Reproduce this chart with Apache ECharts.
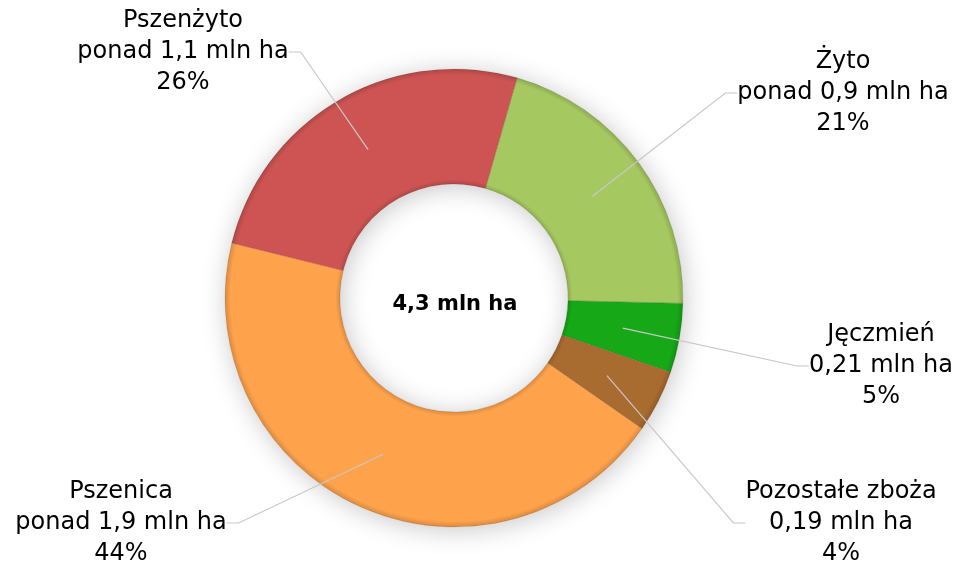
<!DOCTYPE html>
<html>
<head>
<meta charset="utf-8">
<script src="https://cdn.jsdelivr.net/npm/echarts@6/dist/echarts.min.js"></script>
<style>
  html, body { margin: 0; padding: 0; background: #fff; }
  #chart { width: 959px; height: 563px; }
</style>
</head>
<body>
<div id="chart"></div>
<script type="text/javascript">

// dane: powierzchnia zasiewów zbóż (mln ha)
var names = ['Żyto', 'Jęczmień', 'Pozostałe zboża', 'Pszenica', 'Pszenżyto'];
var values = [0.9, 0.21, 0.19, 1.9, 1.1];
var areaText = ['ponad 0,9 mln ha', '0,21 mln ha', '0,19 mln ha', 'ponad 1,9 mln ha', 'ponad 1,1 mln ha'];
var percents = ['21%', '5%', '4%', '44%', '26%'];
var colors = ['#A6C860', '#16A816', '#A86B30', '#FFA24C', '#CD5452'];
var totalText = '4,3 mln ha';

// pozycje etykiet (srodek bloku tekstu)
var labelPos = [[843, 93], [881, 366], [841, 523], [121, 523], [183, 52]];

var cx = 454, cy = 298, rIn = 114, rOut = 229;

function shade(hex, k) {
  var n = parseInt(hex.slice(1), 16);
  var r = Math.round(((n >> 16) & 255) * k);
  var g = Math.round(((n >> 8) & 255) * k);
  var b = Math.round((n & 255) * k);
  return 'rgb(' + r + ',' + g + ',' + b + ')';
}

function bevel(c) {
  var f = rIn / rOut;
  return new echarts.graphic.RadialGradient(cx, cy, rOut, [
    { offset: 0, color: shade(c, 0.88) },
    { offset: f, color: shade(c, 0.86) },
    { offset: f + 0.02, color: c },
    { offset: 0.975, color: c },
    { offset: 1, color: shade(c, 0.85) }
  ], true);
}

var ring = [], labels = [];
for (var i = 0; i < names.length; i++) {
  ring.push({ name: names[i], value: values[i], itemStyle: { color: bevel(colors[i]) } });
  labels.push({ name: names[i], value: values[i] });
}

var chart = echarts.init(document.getElementById('chart'));
chart.setOption({
  animation: false,
  title: {
    text: totalText,
    left: cx - 4, top: cy + 2,
    textAlign: 'center', textVerticalAlign: 'middle',
    textStyle: { fontFamily: 'DejaVu Sans', fontSize: 21, fontWeight: 'bold', color: '#000' }
  },
  series: [
    {
      // tlo z cieniem
      type: 'pie', silent: true, z: 1,
      center: [cx, cy], radius: [rIn, rOut],
      label: { show: false }, labelLine: { show: false },
      itemStyle: { color: '#fff', shadowBlur: 26, shadowColor: 'rgba(0,0,0,0.22)', shadowOffsetX: 2, shadowOffsetY: 3 },
      data: [{ value: 1 }]
    },
    {
      type: 'pie', silent: true, z: 2,
      center: [cx, cy], radius: [rIn, rOut],
      startAngle: 74, clockwise: true,
      label: { show: false }, labelLine: { show: false },
      itemStyle: { borderColor: 'rgba(0,0,0,0.1)', borderWidth: 1 },
      data: ring
    },
    {
      // niewidoczny pierscien tylko dla etykiet (linie od srodka pierscienia)
      type: 'pie', silent: true, z: 3,
      center: [cx, cy], radius: [0, (rIn + rOut) / 2],
      startAngle: 74, clockwise: true,
      itemStyle: { color: 'rgba(0,0,0,0)' },
      label: {
        show: true, position: 'outside',
        fontFamily: 'DejaVu Sans', fontSize: 24, lineHeight: 31, color: '#000',
        formatter: function (p) {
          return names[p.dataIndex] + '\n' + areaText[p.dataIndex] + '\n' + percents[p.dataIndex];
        }
      },
      labelLine: { show: true, length: 20, length2: 12, lineStyle: { color: '#c8c8c8', width: 1.2 } },
      labelLayout: function (p) {
        return { x: labelPos[p.dataIndex][0], y: labelPos[p.dataIndex][1], align: 'center', verticalAlign: 'middle' };
      },
      data: labels
    }
  ]
});
</script>
</body>
</html>
